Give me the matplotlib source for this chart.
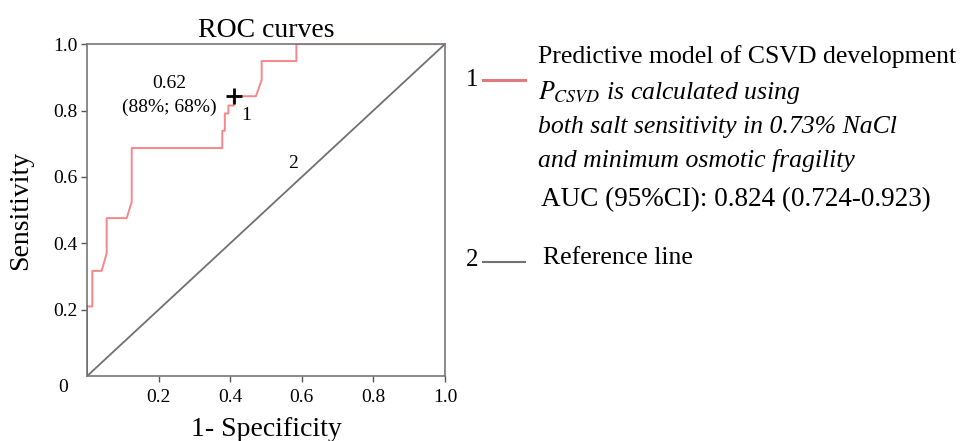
import matplotlib
matplotlib.use('Agg')
import matplotlib.pyplot as plt
from matplotlib.lines import Line2D

plt.rcParams['font.family'] = ['Liberation Serif', 'DejaVu Serif']
plt.rcParams['mathtext.fontset'] = 'stix'

# ROC curve of the predictive model (1 - specificity, sensitivity)
fpr = [0.0, 0.0, 0.015, 0.015, 0.041, 0.055, 0.055, 0.111, 0.125, 0.125,
       0.378, 0.378, 0.385, 0.385, 0.395, 0.395, 0.41, 0.41, 0.472, 0.488,
       0.488, 0.585, 0.585, 1.0]
tpr = [0.0, 0.21, 0.21, 0.317, 0.317, 0.37, 0.476, 0.476, 0.525, 0.687,
       0.687, 0.739, 0.739, 0.791, 0.791, 0.815, 0.815, 0.843, 0.843, 0.892,
       0.949, 0.949, 1.0, 1.0]
ref_x = [0.0, 1.0]
ref_y = [0.0, 1.0]
cut_x, cut_y = 0.41, 0.845   # optimal cut-off point
ticks = [0.2, 0.4, 0.6, 0.8, 1.0]
tick_labels = ['0.2', '0.4', '0.6', '0.8', '1.0']

fig = plt.figure(figsize=(9.61, 4.41), dpi=100)
ax = fig.add_axes([0.0905, 0.147, 0.3725, 0.753])

ax.plot(fpr, tpr, color='#f4878a', lw=1.4)
ax.plot(ref_x, ref_y, color='#707070', lw=1.3)
ax.plot([0, 0], [0, 0.21], color='#8b1a1a', lw=1.2)
ax.plot(cut_x, cut_y, marker='+', color='black', ms=12, mew=2)

ax.text(0.23, 0.88, '0.62', ha='center', va='center', fontsize=14)
ax.text(0.23, 0.81, '(88%; 68%)', ha='center', va='center', fontsize=14)
ax.text(0.445, 0.785, '1', ha='center', va='center', fontsize=14)
ax.text(0.575, 0.64, '2', ha='center', va='center', fontsize=14)

ax.set_xlim(0, 1)
ax.set_ylim(0, 1)
ax.set_xticks(ticks)
ax.set_xticklabels(tick_labels)
ax.set_yticks(ticks)
ax.set_yticklabels(tick_labels)
ax.tick_params(direction='out', length=4, width=1, color='#555555',
               labelsize=14, pad=3)
ax.tick_params(axis='x', pad=5)
for s in ax.spines.values():
    s.set_color('#777777')
    s.set_linewidth(1.2)
ax.text(-0.067, -0.035, '0', ha='center', va='center', fontsize=14)

ax.set_title('ROC curves', fontsize=20, pad=5)
ax.set_xlabel('1- Specificity', fontsize=20, labelpad=8)
ax.set_ylabel('Sensitivity', fontsize=20, labelpad=14)

# legend drawn at the right side
fig.text(466 / 961, 1 - 80 / 441, '1', fontsize=18, ha='left', va='center')
fig.add_artist(Line2D([483 / 961, 525 / 961], [1 - 80 / 441, 1 - 80 / 441],
                      color='#e07a80', lw=2.2))
fig.text(538 / 961, 1 - 57 / 441, 'Predictive model of CSVD development',
         fontsize=18.5, ha='left', va='center')
fig.text(538 / 961, 1 - 93 / 441, r'$P_{CSVD}$ is calculated using',
         fontsize=18.5, ha='left', va='center', style='italic')
fig.text(538 / 961, 1 - 127 / 441, 'both salt sensitivity in 0.73% NaCl',
         fontsize=18.5, ha='left', va='center', style='italic')
fig.text(538 / 961, 1 - 160 / 441, 'and minimum osmotic fragility',
         fontsize=18.5, ha='left', va='center', style='italic')
fig.text(541 / 961, 1 - 200 / 441, 'AUC (95%CI): 0.824 (0.724-0.923)',
         fontsize=19.5, ha='left', va='center')
fig.text(466 / 961, 1 - 260 / 441, '2', fontsize=18, ha='left', va='center')
fig.add_artist(Line2D([483 / 961, 525 / 961], [1 - 262 / 441, 1 - 262 / 441],
                      color='#707070', lw=1.5))
fig.text(543 / 961, 1 - 258 / 441, 'Reference line',
         fontsize=18.5, ha='left', va='center')

fig.savefig('out.png', dpi=100)
